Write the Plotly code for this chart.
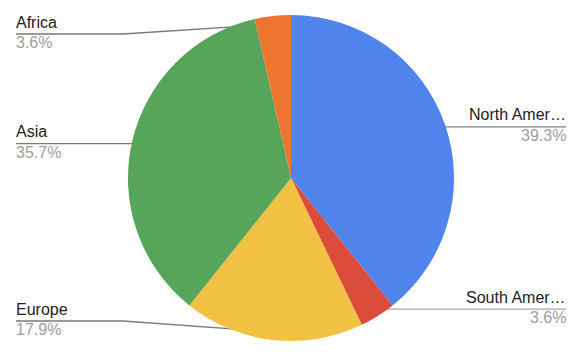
import math
import plotly.graph_objects as go

# ---- data ----
regions = ["North America", "South America", "Europe", "Asia", "Africa"]
counts = [11, 1, 5, 10, 1]
colors = ["#5083eb", "#dc4c3b", "#f2c043", "#57a55a", "#ee7530"]

W, H = 578, 352
CX, CY, R = 291, 178, 163

fig = go.Figure()
fig.add_trace(go.Pie(
    labels=regions, values=counts, sort=False, direction="clockwise",
    rotation=0, marker=dict(colors=colors, line=dict(width=0)),
    textinfo="none", hoverinfo="label+percent", showlegend=False,
    domain=dict(x=[(CX - R) / W, (CX + R) / W], y=[1 - (CY + R) / H, 1 - (CY - R) / H]),
))

def short(name, n=10):
    return name if len(name) <= n + 1 else name[:n] + "…"

FONT = "Liberation Sans, Arial"
total = sum(counts)
cum = 0
annotations = []
for name, v in zip(regions, counts):
    frac = v / total
    mid = (cum + frac / 2) * 2 * math.pi
    cum += frac
    dx = CX + 0.95 * R * math.sin(mid)
    dy = CY - 0.95 * R * math.cos(mid)
    ly = min(max(dy, 34), 321)
    right = math.sin(mid) > 0
    if right:
        xs = [dx, 566]
        ys = [dy, dy]
        tx, anchor = 567, "right"
        lc = "#a8a8a8" if dy > 200 else "#7f7f7f"
    else:
        xs = [16, 123, dx]
        ys = [ly, ly, dy]
        tx, anchor = 15, "left"
        lc = "#7a7a7a"
    fig.add_trace(go.Scatter(x=xs, y=ys, mode="lines", line=dict(color=lc, width=1.3),
                             hoverinfo="skip", showlegend=False, xaxis="x", yaxis="y"))
    fig.add_trace(go.Scatter(x=[dx], y=[dy], mode="markers",
                             marker=dict(color="#9e9e9e", size=7),
                             hoverinfo="skip", showlegend=False, xaxis="x", yaxis="y"))
    annotations.append(dict(x=tx, y=ly - 2.5, xref="x", yref="y", text=short(name),
                            xanchor=anchor, yanchor="bottom", showarrow=False, borderpad=0,
                            font=dict(family=FONT, size=16, color="#222222")))
    annotations.append(dict(x=tx, y=ly - 1, xref="x", yref="y", text=f"{frac*100:.1f}%",
                            xanchor=anchor, yanchor="top", showarrow=False, borderpad=0,
                            font=dict(family=FONT, size=16, color="#9e9e9e")))

fig.update_layout(
    width=W, height=H, margin=dict(l=0, r=0, t=0, b=0),
    paper_bgcolor="white", plot_bgcolor="rgba(0,0,0,0)",
    xaxis=dict(range=[0, W], visible=False, fixedrange=True, domain=[0, 1]),
    yaxis=dict(range=[H, 0], visible=False, fixedrange=True, domain=[0, 1]),
    annotations=annotations,
)
fig.write_html("out.html", config={"displayModeBar": False},
               post_script="document.body.style.margin='0';document.body.style.padding='0';")
